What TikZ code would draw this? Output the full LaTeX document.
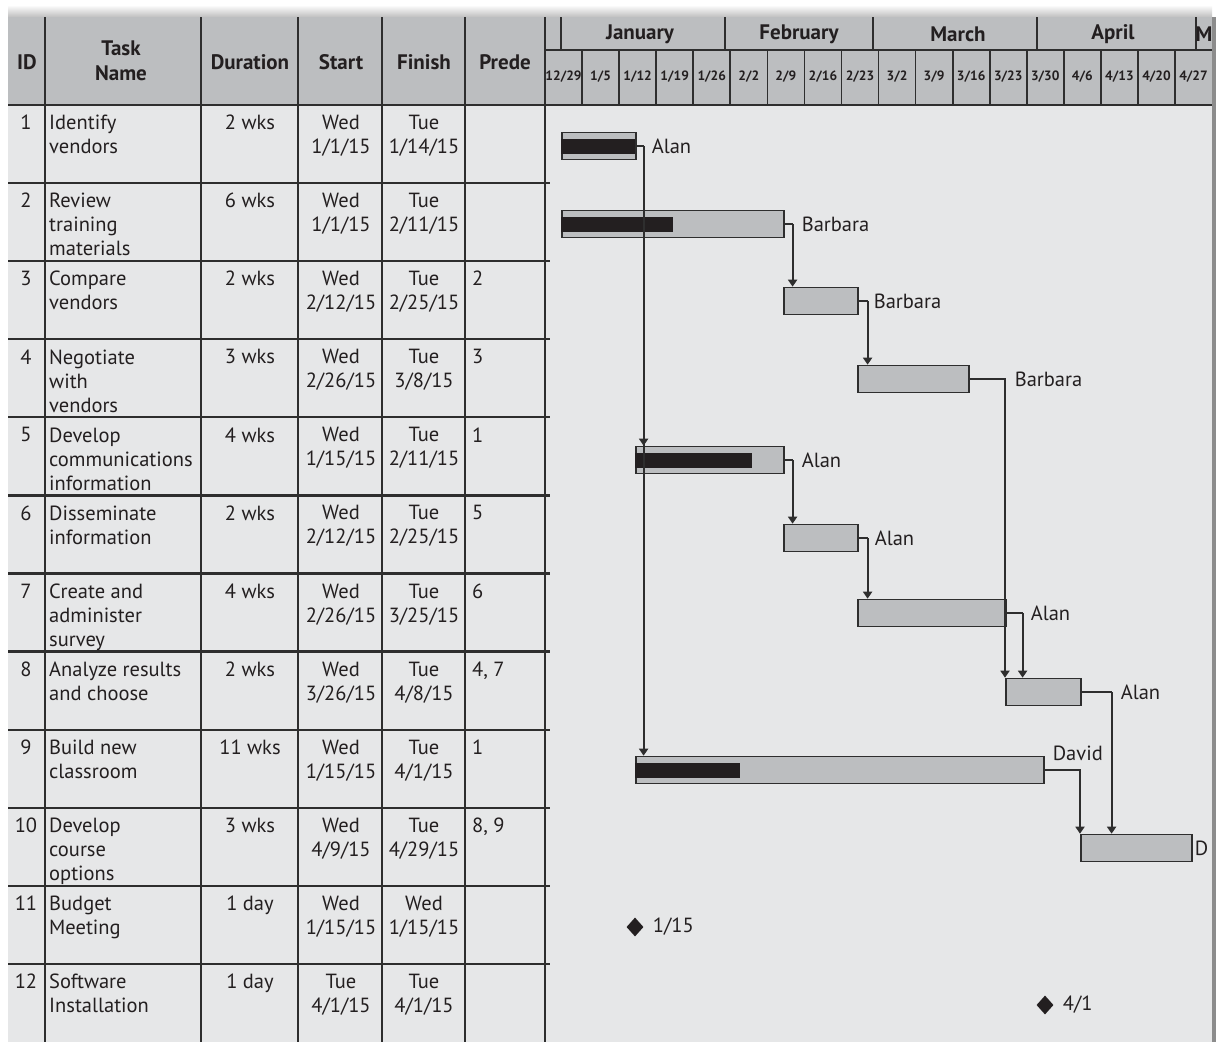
\documentclass[tikz,border=0pt]{standalone}
\usepackage{fontspec}
\setmainfont{PT Sans}
\usetikzlibrary{arrows.meta,positioning,shapes.geometric,calc}
\definecolor{bodybg}{HTML}{E6E7E8}
\definecolor{headbg}{HTML}{BCBEC0}
\definecolor{barfill}{HTML}{BCBEC0}
\definecolor{ink}{HTML}{231F20}
\definecolor{rule}{HTML}{2E2E2E}

% one table row: #1 index, #2 task name, #3 duration, #4 start, #5 finish, #6 predecessors
\newcommand{\taskrow}[6]{%
  \pgfmathsetmacro{\rtop}{105+(#1-1)*78.08+10}
  \node[cell] (id#1) at (26,\rtop) {#1};
  \node[taskname] (nm#1) at (49,\rtop) {#2};
  \node[cell] (du#1) at (250,\rtop) {#3};
  \node[cell] (st#1) at (341,\rtop) {#4};
  \node[cell] (fi#1) at (424,\rtop) {#5};
  \node[taskname] (pr#1) at (472,\rtop) {#6};
}

\begin{document}
\begin{tikzpicture}[x=1pt,y=-1pt,
  cell/.style={anchor=north,inner sep=0pt,align=center,text=ink,font=\fontsize{20.5}{24}\selectfont},
  taskname/.style={anchor=north west,inner sep=0pt,align=left,text=ink,font=\fontsize{20.5}{24}\selectfont},
  headtxt/.style={inner sep=0pt,align=center,text=ink,font=\fontsize{21}{25}\selectfont\bfseries},
  weektxt/.style={inner sep=0pt,text=ink,font=\fontsize{13.5}{15}\selectfont\bfseries},
  bar/.style={draw=rule,fill=barfill,line width=1.6pt,minimum height=27pt,inner sep=0pt,anchor=west},
  done/.style={fill=ink,minimum height=15pt,inner sep=0pt,anchor=west},
  res/.style={inner sep=0pt,anchor=west,text=ink,font=\fontsize{20.5}{24}\selectfont},
  stub/.style={draw=rule,line width=2pt},
  link/.style={draw=rule,line width=2pt,-{Triangle[width=9pt,length=7pt]}},
  milestone/.style={diamond,fill=ink,inner sep=0pt,minimum width=17pt,minimum height=19pt},
  grid/.style={draw=rule,line width=1.7pt},
]
\useasboundingbox (0,0) rectangle (1216,1042);
\fill[white] (0,0) rectangle (1216,1042);

% backgrounds
\shade[top color=white,bottom color=black!25] (8,5) rectangle (1212,17);
\fill[headbg] (8,17) rectangle (1212,105);
\fill[bodybg] (8,105) rectangle (1212,1042);
\draw[black!45,line width=4pt] (1214,17) -- (1214,1042);

% table grid
\foreach \cx in {45,201,298,382,465} \draw[grid] (\cx,17) -- (\cx,1042);
\foreach \k in {1,...,11} \draw[rule,line width=2.2pt] (8,105+\k*78.08) -- (550,105+\k*78.08);
\draw[rule,line width=2.4pt] (8,105) -- (1212,105);
\draw[rule,line width=2pt] (545,17) -- (545,1042);

% timescale grid
\draw[grid] (545,50) -- (1212,50);
\foreach \mx in {561,725,873,1037,1196} \draw[grid] (\mx,17) -- (\mx,50);
\foreach \k in {1,...,17} \draw[grid] (545+\k*37.06,50) -- (545+\k*37.06,105);

% column headings
\node[headtxt] (hid) at (27,62) {ID};
\node[headtxt] (hname) at (121,61) {Task\\Name};
\node[headtxt] (hdur) at (250,62) {Duration};
\node[headtxt] (hstart) at (341,62) {Start};
\node[headtxt] (hfin) at (424,62) {Finish};
\node[headtxt] (hpre) at (505,62) {Prede};

% months
\node[headtxt] (jan) at (640,34) {January};
\node[headtxt] (feb) at (799,34) {February};
\node[headtxt] (mar) at (958,34) {March};
\node[headtxt] (apr) at (1113,34) {April};
\node[headtxt] (may) at (1204,34) {M};

% weeks
\foreach \w [count=\k from 0] in {12/29,1/5,1/12,1/19,1/26,2/2,2/9,2/16,2/23,3/2,3/9,3/16,3/23,3/30,4/6,4/13,4/20,4/27}
  \node[weektxt] (wk\k) at (545+\k*37.06+18.53,77) {\w};

% table rows
\taskrow{1}{Identify\\vendors}{2 wks}{Wed\\1/1/15}{Tue\\1/14/15}{}
\taskrow{2}{Review\\training\\materials}{6 wks}{Wed\\1/1/15}{Tue\\2/11/15}{}
\taskrow{3}{Compare\\vendors}{2 wks}{Wed\\2/12/15}{Tue\\2/25/15}{2}
\taskrow{4}{Negotiate\\with\\vendors}{3 wks}{Wed\\2/26/15}{Tue\\3/8/15}{3}
\taskrow{5}{Develop\\communications\\information}{4 wks}{Wed\\1/15/15}{Tue\\2/11/15}{1}
\taskrow{6}{Disseminate\\information}{2 wks}{Wed\\2/12/15}{Tue\\2/25/15}{5}
\taskrow{7}{Create and\\administer\\survey}{4 wks}{Wed\\2/26/15}{Tue\\3/25/15}{6}
\taskrow{8}{Analyze results\\and choose}{2 wks}{Wed\\3/26/15}{Tue\\4/8/15}{4, 7}
\taskrow{9}{Build new\\classroom}{11 wks}{Wed\\1/15/15}{Tue\\4/1/15}{1}
\taskrow{10}{Develop\\course\\options}{3 wks}{Wed\\4/9/15}{Tue\\4/29/15}{8, 9}
\taskrow{11}{Budget\\Meeting}{1 day}{Wed\\1/15/15}{Wed\\1/15/15}{}
\taskrow{12}{Software\\Installation}{1 day}{Tue\\4/1/15}{Tue\\4/1/15}{}

% task bars
\node[bar,minimum width=74pt]  (b1)  at (561,146) {};
\node[bar,minimum width=222pt] (b2)  at (561,224) {};
\node[bar,minimum width=74pt]  (b3)  at (783,301) {};
\node[bar,minimum width=111pt] (b4)  at (857,379) {};
\node[bar,minimum width=148pt] (b5)  at (635,460) {};
\node[bar,minimum width=74pt]  (b6)  at (783,538) {};
\node[bar,minimum width=148pt] (b7)  at (857,613) {};
\node[bar,minimum width=75pt]  (b8)  at (1005,692) {};
\node[bar,minimum width=408pt] (b9)  at (635,770) {};
\node[bar,minimum width=111pt] (b10) at (1080,848) {};

% progress
\node[done,minimum width=74pt]  (p1) at (b1.west) {};
\node[done,minimum width=112pt] (p2) at (b2.west) {};
\node[done,minimum width=117pt] (p5) at (b5.west) {};
\node[done,minimum width=105pt] (p9) at (b9.west) {};

% milestones
\node[milestone] (m11) at (635,927) {};
\node[milestone] (m12) at (1045,1005) {};

% dependencies
\draw[stub] (b1.east) -- ++(7,0) coordinate (k1);
\draw[link] (k1) -- (k1 |- b5.north);
\draw[link] (k1) -- (k1 |- b9.north);
\draw[stub] (b2.east) -- ++(8,0) coordinate (k2);
\draw[link] (k2) -- (k2 |- b3.north);
\draw[stub] (b3.east) -- ++(9,0) coordinate (k3);
\draw[link] (k3) -- (k3 |- b4.north);
\draw[link] (b4.east) -| (b8.north west);
\draw[stub] (b5.east) -- ++(8,0) coordinate (k5);
\draw[link] (k5) -- (k5 |- b6.north);
\draw[stub] (b6.east) -- ++(9,0) coordinate (k6);
\draw[link] (k6) -- (k6 |- b7.north);
\draw[stub] (b7.east) -- ++(16,0) coordinate (k7);
\draw[link] (k7) -- (k7 |- b8.north);
\draw[stub] (b8.east) -- ++(30,0) coordinate (k8);
\draw[link] (k8) -- (k8 |- b10.north);
\draw[link] (b9.east) -| (b10.north west);

% resources and dates
\node[res,right=15pt of b1] (r1) {Alan};
\node[res,right=17pt of b2] (r2) {Barbara};
\node[res,right=15pt of b3] (r3) {Barbara};
\node[res,right=45pt of b4] (r4) {Barbara};
\node[res,right=17pt of b5] (r5) {Alan};
\node[res,right=16pt of b6] (r6) {Alan};
\node[res,right=24pt of b7] (r7) {Alan};
\node[res,right=39pt of b8] (r8) {Alan};
\node[res] (r9) at ($(b9.north east)+(8,-2)$) {David};
\node[res,right=2pt of b10] (r10) {D};
\node[res,right=9pt of m11] (d11) {1/15};
\node[res,right=9pt of m12] (d12) {4/1};
\end{tikzpicture}
\end{document}
